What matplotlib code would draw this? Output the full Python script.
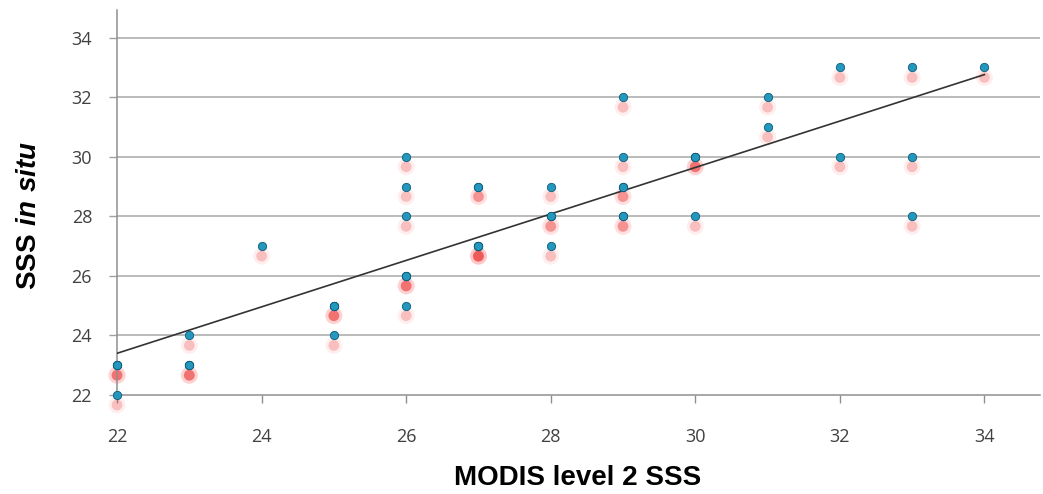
import numpy as np
import matplotlib
matplotlib.use('Agg')
import matplotlib.pyplot as plt
import matplotlib.transforms as mtransforms

# MODIS level 2 SSS vs in situ SSS (duplicates = overlapping samples)
modis_sss = [22, 22, 22, 22,
             23, 23, 23, 23,
             24,
             25, 25, 25, 25,
             26, 26, 26, 26, 26, 26, 26,
             27, 27, 27, 27, 27, 27,
             28, 28, 28, 28,
             29, 29, 29, 29, 29, 29,
             30, 30, 30, 30,
             31, 31,
             32, 32,
             33, 33, 33,
             34]
insitu_sss = [23, 23, 23, 22,
              24, 23, 23, 23,
              27,
              25, 25, 25, 24,
              30, 29, 28, 26, 26, 26, 25,
              29, 29, 27, 27, 27, 27,
              29, 28, 28, 27,
              32, 30, 29, 29, 28, 28,
              30, 30, 30, 28,
              32, 31,
              33, 30,
              33, 30, 28,
              33]

# regression line
fit_slope = 0.78
fit_intercept = 6.24

x_ticks = [22, 24, 26, 28, 30, 32, 34]
y_ticks = [22, 24, 26, 28, 30, 32, 34]

plt.rcParams['mathtext.fontset'] = 'custom'
plt.rcParams['mathtext.bf'] = 'Liberation Sans:bold'
plt.rcParams['mathtext.bfit'] = 'Liberation Sans:bold:italic'

fig = plt.figure(figsize=(10.43, 4.94), dpi=100)
ax = fig.add_axes([0.1122, 0.2004, 0.885, 0.78])

ax.set_xlim(22, 34.77)
ax.set_ylim(22, 34.94)

# horizontal grid lines
for yv in y_ticks[1:]:
    ax.axhline(yv, color='#a8a8a8', lw=1.1, zorder=1)

# red blurred shadows below each marker
shadow = ax.transData + mtransforms.ScaledTranslation(0, -0.10, fig.dpi_scale_trans)
ax.scatter(modis_sss, insitu_sss, s=150, color='#ff6060', alpha=0.10,
           edgecolors='none', transform=shadow, clip_on=False, zorder=2)
ax.scatter(modis_sss, insitu_sss, s=60, color='#e81c1c', alpha=0.22,
           edgecolors='none', transform=shadow, clip_on=False, zorder=2)

# regression line
xl = np.array([22, 34])
ax.plot(xl, fit_intercept + fit_slope * xl, color='#333333', lw=1.2, zorder=3)

# blue markers
ax.scatter(modis_sss, insitu_sss, s=36, color='#2497bd', edgecolors='#0e5c78',
           linewidths=0.6, clip_on=False, zorder=4)

for side in ['top', 'right']:
    ax.spines[side].set_visible(False)
ax.spines['left'].set_color('#909090')
ax.spines['bottom'].set_color('#909090')
ax.spines['left'].set_linewidth(1.1)
ax.spines['bottom'].set_linewidth(1.1)

ax.set_xticks(x_ticks)
ax.set_yticks(y_ticks)
ax.tick_params(axis='x', length=6, width=1, color='#909090', pad=18,
               labelsize=13, labelcolor='#404040')
ax.tick_params(axis='y', length=6, width=1, color='#a0a0a0', pad=12,
               labelsize=13, labelcolor='#404040')
for lab in ax.get_xticklabels() + ax.get_yticklabels():
    lab.set_fontfamily('Open Sans')

fig.text(578 / 1043, 1 - 478 / 494, 'MODIS level 2 SSS', fontsize=20,
         fontweight='bold', family='Liberation Sans', ha='center', va='center')
fig.text(28 / 1043, 1 - 215 / 494, r'$\mathbf{SSS}\ \mathbfit{in\ situ}$',
         fontsize=20, rotation=90, ha='center', va='center')

fig.savefig('out.png', dpi=100)
